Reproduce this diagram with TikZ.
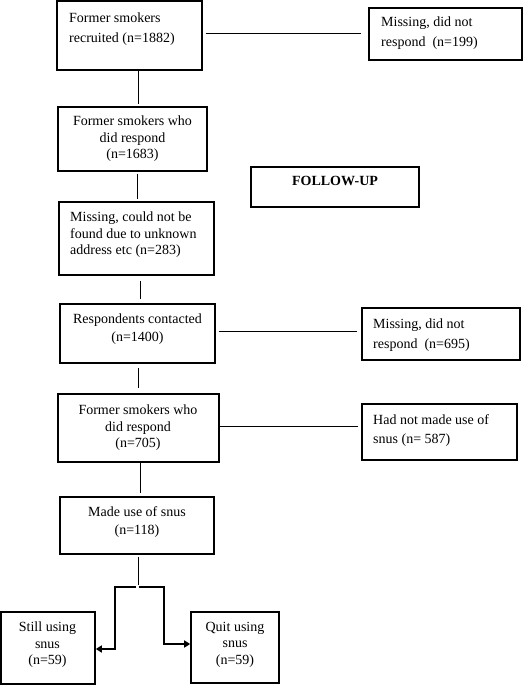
\documentclass[tikz,border=0pt]{standalone}
\usepackage{fontspec}
\setmainfont{Liberation Serif}
\usetikzlibrary{arrows.meta}
\begin{document}
\begin{tikzpicture}[x=1pt,y=-1pt,
  box/.style={draw, line width=1.6pt, inner sep=0pt},
  txt/.style={inner sep=0pt, font=\fontsize{14}{16.5}\selectfont},
  txtwide/.style={inner sep=0pt, font=\fontsize{14}{19.5}\selectfont},
  txtmid/.style={inner sep=0pt, font=\fontsize{14}{18}\selectfont},
  conn/.style={line width=0.9pt},
  arr/.style={line width=1.6pt, -{Triangle[length=6pt,width=7pt]}}]
\useasboundingbox (0,0) rectangle (529,685);
% boxes
\node[box, minimum width=145pt, minimum height=69pt] (B1) at (129.5,35.5) {};
\node[box, minimum width=153pt, minimum height=52pt] (M1) at (445.5,34) {};
\node[box, minimum width=149pt, minimum height=64pt] (B2) at (132.5,139) {};
\node[box, minimum width=168pt, minimum height=40pt] (FU) at (335,187) {};
\node[box, minimum width=155pt, minimum height=73pt] (B3) at (136.5,238.5) {};
\node[box, minimum width=155pt, minimum height=59pt] (B4) at (137.5,333.5) {};
\node[box, minimum width=158pt, minimum height=52pt] (M2) at (441,334) {};
\node[box, minimum width=161pt, minimum height=68pt] (B5) at (138.5,428) {};
\node[box, minimum width=155pt, minimum height=56pt] (M3) at (439.5,432) {};
\node[box, minimum width=154pt, minimum height=57pt] (B6) at (137,525.5) {};
\node[box, minimum width=94pt, minimum height=72pt] (S) at (48,648) {};
\node[box, minimum width=88pt, minimum height=71pt] (Q) at (235,647.5) {};
% texts
\node[txtwide, anchor=north west, align=left] (t1) at (69,13) {Former smokers\\recruited (n=1882)};
\node[txtwide, anchor=north west, align=left] (tm1) at (381,17) {Missing, did not\\respond\ \ (n=199)};
\node[txt, anchor=north, align=center] (t2) at (132.5,116) {Former smokers who\\did respond\\(n=1683)};
\node[txt, anchor=north, font=\fontsize{14}{16.5}\selectfont\bfseries] (tfu) at (335,176) {FOLLOW-UP};
\node[txt, anchor=north west, align=left] (t3) at (70,212) {Missing, could not be\\found due to unknown\\address etc (n=283)};
\node[txtmid, anchor=north, align=center] (t4) at (137.5,314) {Respondents contacted\\(n=1400)};
\node[txtwide, anchor=north west, align=left] (tm2) at (373,319) {Missing, did not\\respond\ \ (n=695)};
\node[txt, anchor=north, align=center] (t5) at (138,405) {Former smokers who\\did respond\\(n=705)};
\node[txtwide, anchor=north west, align=left] (tm3) at (373,414) {Had not made use of\\snus (n= 587)};
\node[txtmid, anchor=north, align=center] (t6) at (137,506) {Made use of snus\\(n=118)};
\node[txt, anchor=north, align=center] (ts) at (47.5,622) {Still using\\snus\\(n=59)};
\node[txt, anchor=north, align=center] (tq) at (235,622) {Quit using\\snus\\(n=59)};
% connectors
\draw[conn, shorten <=3pt, shorten >=7pt] (B1.east |- 0,33) -- (M1.west |- 0,33);
\draw[conn, shorten >=2pt] (B1.south -| 138,0) -- (B2.north -| 138,0);
\draw[conn, shorten <=2pt, shorten >=2pt] (B2.south -| 137,0) -- (B3.north -| 137,0);
\draw[conn, shorten <=5pt, shorten >=4pt] (B3.south -| 140,0) -- (B4.north -| 140,0);
\draw[conn, shorten <=3pt, shorten >=4pt] (B4.east |- 0,331) -- (M2.west |- 0,331);
\draw[conn, shorten <=4pt, shorten >=5pt] (B4.south -| 138,0) -- (B5.north -| 138,0);
\draw[conn, shorten >=3pt] (B5.east |- 0,426) -- (M3.west |- 0,426);
\draw[conn, shorten >=3pt] (B5.south -| 140,0) -- (B6.north -| 140,0);
\coordinate (J) at (138,587);
\draw[conn, shorten <=2pt, shorten >=2pt] (B6.south -| 138,0) -- (J);
\draw[arr] ([xshift=-2pt]J) -- ++(-21,0) |- (S.east |- 0,649);
\draw[arr] ([xshift=1pt]J) -- ++(25,0) |- (Q.west |- 0,644);
\end{tikzpicture}
\end{document}
